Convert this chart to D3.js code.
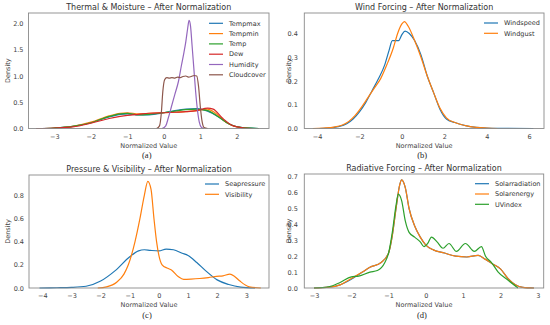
<!DOCTYPE html>
<html>
<head>
<meta charset="utf-8">
<script src="https://cdn.jsdelivr.net/npm/d3@7"></script>
<style>
  body { margin: 0; background: #fff; }
  text { font-family: "DejaVu Sans", sans-serif; }
</style>
</head>
<body>
<script>
// Figure size
const width = 550;
const height = 325;

// Colours (matplotlib tab10)
var colors = ["#1f77b4", "#ff7f0e", "#2ca02c", "#d62728", "#9467bd", "#8c564b"];

// ---- (a) Thermal & Moisture ----
var thermalNames = ["Tempmax", "Tempmin", "Temp", "Dew", "Humidity", "Cloudcover"];
var tempmaxX = [-3.5, -3, -2.5, -2, -1.5, -1.2, -1, -0.7, -0.4, 0, 0.3, 0.6, 0.9, 1.2, 1.5, 1.8, 2.1, 2.5, 2.6];
var tempmaxY = [0, 0.01, 0.04, 0.11, 0.22, 0.27, 0.28, 0.26, 0.26, 0.3, 0.34, 0.37, 0.38, 0.33, 0.22, 0.08, 0.02, 0.003, 0];
var tempminX = [-3.4, -3, -2.5, -2, -1.5, -1.2, -1, -0.7, -0.4, 0, 0.3, 0.6, 0.9, 1.2, 1.4, 1.7, 2, 2.3, 2.5];
var tempminY = [0, 0.01, 0.04, 0.12, 0.24, 0.29, 0.3, 0.28, 0.29, 0.3, 0.31, 0.32, 0.34, 0.37, 0.3, 0.12, 0.03, 0.005, 0];
var tempX = [-3.4, -3, -2.5, -2, -1.5, -1.2, -1, -0.7, -0.4, 0, 0.3, 0.6, 0.9, 1.2, 1.5, 1.8, 2.1, 2.5, 2.6];
var tempY = [0, 0.01, 0.04, 0.11, 0.23, 0.28, 0.29, 0.26, 0.27, 0.3, 0.33, 0.36, 0.37, 0.34, 0.22, 0.08, 0.02, 0.003, 0];
var dewX = [-3.5, -3, -2.5, -2, -1.5, -1.2, -1, -0.7, -0.4, 0, 0.3, 0.6, 0.9, 1.2, 1.35, 1.6, 1.9, 2.2, 2.4];
var dewY = [0, 0.01, 0.03, 0.1, 0.19, 0.23, 0.25, 0.27, 0.29, 0.3, 0.31, 0.32, 0.34, 0.39, 0.37, 0.2, 0.05, 0.01, 0];
var humidityX = [-0.05, 0.05, 0.12, 0.2, 0.3, 0.4, 0.48, 0.55, 0.6, 0.65, 0.69, 0.73, 0.77, 0.82, 0.87, 0.92, 0.97, 1.03, 1.1];
var humidityY = [0, 0.05, 0.2, 0.4, 0.65, 0.9, 1.2, 1.45, 1.65, 1.9, 2.06, 1.95, 1.6, 1.15, 0.7, 0.35, 0.12, 0.02, 0];
var cloudX = [-0.2, -0.12, -0.07, -0.03, 0.02, 0.08, 0.15, 0.22, 0.3, 0.38, 0.45, 0.52, 0.6, 0.67, 0.75, 0.83, 0.9, 0.95, 1.0, 1.05, 1.1, 1.2];
var cloudY = [0, 0.05, 0.3, 0.7, 0.93, 0.97, 0.96, 0.97, 0.96, 0.98, 0.97, 0.99, 1.0, 0.98, 0.99, 1.01, 1.0, 0.8, 0.4, 0.12, 0.02, 0];

// ---- (b) Wind Forcing ----
var windNames = ["Windspeed", "Windgust"];
var windspeedX = [-3.9, -3.5, -3, -2.6, -2.3, -2, -1.7, -1.4, -1.1, -0.8, -0.6, -0.45, -0.3, -0.15, 0, 0.15, 0.35, 0.6, 0.9, 1.2, 1.5, 1.8, 2.1, 2.5, 3, 3.5, 4, 4.5, 5, 6.2];
var windspeedY = [0, 0.002, 0.008, 0.02, 0.04, 0.07, 0.11, 0.16, 0.21, 0.27, 0.33, 0.37, 0.37, 0.37, 0.395, 0.41, 0.4, 0.37, 0.31, 0.22, 0.15, 0.08, 0.04, 0.025, 0.012, 0.005, 0.002, 0.001, 0.001, 0];
var windgustX = [-4.2, -3.7, -3.2, -2.8, -2.5, -2.2, -1.9, -1.6, -1.3, -1, -0.7, -0.4, -0.2, 0, 0.12, 0.3, 0.6, 0.9, 1.2, 1.5, 1.8, 2.1, 2.5, 3, 3.5, 4, 4.5];
var windgustY = [0, 0.002, 0.006, 0.015, 0.03, 0.055, 0.09, 0.13, 0.17, 0.21, 0.27, 0.34, 0.4, 0.44, 0.45, 0.43, 0.37, 0.3, 0.22, 0.15, 0.085, 0.045, 0.025, 0.012, 0.005, 0.002, 0];

// ---- (c) Pressure & Visibility ----
var pressNames = ["Seapressure", "Visibility"];
var seapressX = [-4.1, -3.5, -3, -2.5, -2, -1.5, -1, -0.7, -0.5, -0.3, 0, 0.25, 0.5, 0.8, 1, 1.3, 1.6, 2, 2.4, 2.8, 3.3];
var seapressY = [0, 0.002, 0.005, 0.015, 0.06, 0.15, 0.27, 0.32, 0.33, 0.325, 0.32, 0.335, 0.33, 0.3, 0.28, 0.22, 0.15, 0.07, 0.03, 0.008, 0];
var visibX = [-2.1, -1.8, -1.45, -1.2, -1.05, -0.82, -0.65, -0.5, -0.38, -0.27, -0.17, -0.08, 0.11, 0.3, 0.43, 0.66, 0.85, 1.1, 1.4, 1.7, 1.98, 2.2, 2.44, 2.6, 2.78, 3.1, 3.5];
var visibY = [0, 0.01, 0.05, 0.12, 0.2, 0.4, 0.6, 0.8, 0.92, 0.85, 0.6, 0.4, 0.2, 0.17, 0.155, 0.1, 0.075, 0.077, 0.082, 0.09, 0.1, 0.105, 0.12, 0.1, 0.06, 0.01, 0];

// ---- (d) Radiative Forcing ----
var radNames = ["Solarradiation", "Solarenergy", "UVindex"];
var solradX = [-3, -2.6, -2.3, -2, -1.7, -1.5, -1.2, -1, -0.9, -0.8, -0.7, -0.65, -0.55, -0.45, -0.3, -0.15, 0, 0.2, 0.5, 0.8, 1.1, 1.4, 1.6, 1.8, 2, 2.2, 2.4, 2.6, 2.9];
var solradY = [0, 0.005, 0.02, 0.055, 0.1, 0.13, 0.16, 0.22, 0.33, 0.5, 0.65, 0.68, 0.63, 0.5, 0.39, 0.32, 0.27, 0.24, 0.22, 0.2, 0.195, 0.205, 0.18, 0.15, 0.12, 0.06, 0.02, 0.004, 0];
var solenX = [-3, -2.6, -2.3, -2, -1.7, -1.5, -1.2, -1, -0.9, -0.8, -0.7, -0.65, -0.55, -0.45, -0.3, -0.15, 0, 0.2, 0.5, 0.8, 1.1, 1.4, 1.6, 1.8, 2, 2.2, 2.4, 2.6, 2.9];
var solenY = [0, 0.005, 0.02, 0.06, 0.1, 0.13, 0.16, 0.22, 0.33, 0.5, 0.65, 0.68, 0.63, 0.5, 0.39, 0.32, 0.27, 0.24, 0.22, 0.2, 0.195, 0.205, 0.18, 0.15, 0.12, 0.06, 0.02, 0.004, 0];
var uvX = [-3, -2.6, -2.3, -2, -1.8, -1.5, -1.3, -1.1, -1, -0.9, -0.8, -0.74, -0.65, -0.55, -0.45, -0.3, -0.15, -0.05, 0.05, 0.15, 0.3, 0.46, 0.62, 0.82, 1.06, 1.3, 1.49, 1.6, 1.76, 1.94, 2.2, 2.47];
var uvY = [0, 0.008, 0.035, 0.07, 0.075, 0.1, 0.11, 0.16, 0.22, 0.35, 0.52, 0.59, 0.55, 0.42, 0.35, 0.32, 0.29, 0.26, 0.28, 0.32, 0.29, 0.25, 0.28, 0.23, 0.28, 0.23, 0.26, 0.2, 0.16, 0.1, 0.05, 0];

// Tick values
var ticksAX = [-3, -2, -1, 0, 1, 2];
var ticksAY = [0, 0.5, 1.0, 1.5, 2.0];
var ticksBX = [-4, -2, 0, 2, 4, 6];
var ticksBY = [0, 0.1, 0.2, 0.3, 0.4];
var ticksCX = [-4, -3, -2, -1, 0, 1, 2, 3];
var ticksCY = [0, 0.2, 0.4, 0.6, 0.8];
var ticksDX = [-3, -2, -1, 0, 1, 2, 3];
var ticksDY = [0, 0.1, 0.2, 0.3, 0.4, 0.5, 0.6, 0.7];

// Panel setup
var panels = [
  { title: "Thermal & Moisture \u2013 After Normalization", cap: "(a)",
    box: [28.5, 13, 269, 128.5], xd: [-3.71, 2.88], yd: [0, 2.2],
    xt: ticksAX, yt: ticksAY, names: thermalNames,
    series: [[tempmaxX, tempmaxY], [tempminX, tempminY], [tempX, tempY], [dewX, dewY], [humidityX, humidityY], [cloudX, cloudY]],
    colors: colors, legX: 209, legY: 23.3, ylabX: 7.5, pad: 5 },
  { title: "Wind Forcing \u2013 After Normalization", cap: "(b)",
    box: [304.3, 13, 544, 128.5], xd: [-4.6, 6.7], yd: [0, 0.486],
    xt: ticksBX, yt: ticksBY, names: windNames,
    series: [[windspeedX, windspeedY], [windgustX, windgustY]],
    colors: colors, legX: 484, legY: 23, ylabX: 288.5, pad: 6.5 },
  { title: "Pressure & Visibility \u2013 After Normalization", cap: "(c)",
    box: [29, 175, 269, 288], xd: [-4.46, 3.78], yd: [0, 0.975],
    xt: ticksCX, yt: ticksCY, names: pressNames,
    series: [[seapressX, seapressY], [visibX, visibY]],
    colors: colors, legX: 205, legY: 184, ylabX: 8, pad: 5 },
  { title: "Radiative Forcing \u2013 After Normalization", cap: "(d)",
    box: [304.3, 174, 543.7, 288], xd: [-3.26, 3.16], yd: [0, 0.717],
    xt: ticksDX, yt: ticksDY, names: radNames,
    series: [[solradX, solradY], [solenX, solenY], [uvX, uvY]],
    colors: colors, legX: 475, legY: 183.7, ylabX: 288.5, pad: 6.5 }
];

var svg = d3.select("body")
    .append("svg")
    .attr("width", width)
    .attr("height", height);

panels.forEach(function(p) {
  var [x0, y0, x1, y1] = p.box;
  var x = d3.scaleLinear().domain(p.xd).range([x0, x1]);
  var y = d3.scaleLinear().domain(p.yd).range([y1, y0]);

  // Axes (no tick marks, seaborn "white" style)
  var gx = svg.append("g")
      .attr("transform", `translate(0, ${y1})`)
      .call(d3.axisBottom(x).tickValues(p.xt).tickSize(0).tickPadding(5.5)
        .tickFormat(d => d3.format("d")(d).replace("-", "\u2212")));
  var gy = svg.append("g")
      .attr("transform", `translate(${x0}, 0)`)
      .call(d3.axisLeft(y).tickValues(p.yt).tickSize(0).tickPadding(p.pad)
        .tickFormat(d3.format(".1f")));
  [gx, gy].forEach(function(g) {
    g.select(".domain").remove();
    g.selectAll("text")
      .attr("font-family", "DejaVu Sans")
      .attr("font-size", 6.5)
      .attr("fill", "#444");
  });

  // Density curves
  var line = d3.line()
      .x(d => x(d[0]))
      .y(d => y(d[1]))
      .curve(d3.curveMonotoneX);
  p.series.forEach(function(s, i) {
    var pts = s[0].map((v, k) => [v, s[1][k]]);
    svg.append("path")
      .attr("d", line(pts))
      .attr("fill", "none")
      .attr("stroke", p.colors[i])
      .attr("stroke-width", 1.2);
  });

  // Frame
  svg.append("rect")
    .attr("x", x0).attr("y", y0)
    .attr("width", x1 - x0).attr("height", y1 - y0)
    .attr("fill", "none")
    .attr("stroke", "#8a8a8a")
    .attr("stroke-width", 0.9);

  // Title, axis labels, caption
  var cx = (x0 + x1) / 2;
  svg.append("text")
    .attr("x", cx).attr("y", y0 - 3.5)
    .attr("text-anchor", "middle")
    .attr("font-size", 8)
    .attr("fill", "#333")
    .text(p.title);
  svg.append("text")
    .attr("x", cx).attr("y", y1 + 19)
    .attr("text-anchor", "middle")
    .attr("font-size", 6.5)
    .attr("fill", "#444")
    .text("Normalized Value");
  svg.append("text")
    .attr("transform", `translate(${p.ylabX}, ${(y0 + y1) / 2}) rotate(-90)`)
    .attr("text-anchor", "middle")
    .attr("dy", "0.35em")
    .attr("font-size", 6.5)
    .attr("fill", "#444")
    .text("Density");
  svg.append("text")
    .attr("x", cx - 2).attr("y", y1 + 29.5)
    .attr("text-anchor", "middle")
    .style("font-family", "Liberation Serif")
    .attr("font-size", 8.5)
    .attr("fill", "#222")
    .text(p.cap);

  // Legend
  p.names.forEach(function(n, i) {
    var ly = p.legY + i * 10.3;
    svg.append("line")
      .attr("x1", p.legX).attr("x2", p.legX + 14)
      .attr("y1", ly).attr("y2", ly)
      .attr("stroke", p.colors[i])
      .attr("stroke-width", 1.2);
    svg.append("text")
      .attr("x", p.legX + 20).attr("y", ly)
      .attr("dy", "0.35em")
      .attr("font-size", 6.5)
      .attr("fill", "#333")
      .text(n);
  });
});
</script>
</body>
</html>
